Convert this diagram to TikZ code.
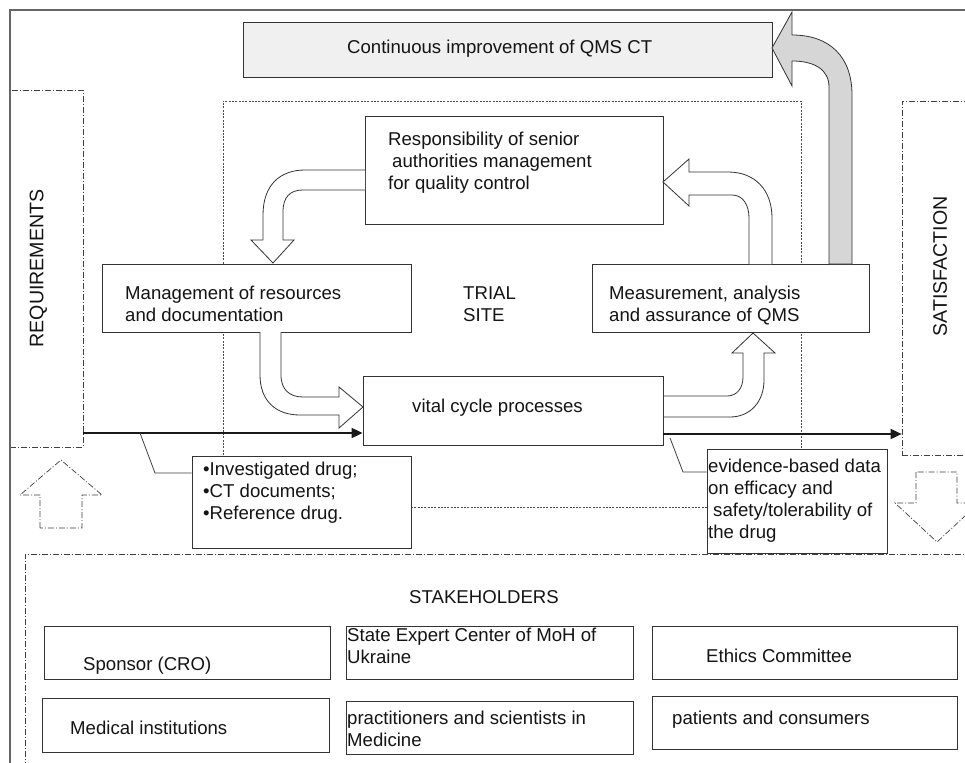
\documentclass[tikz,border=0pt]{standalone}
\usepackage{fontspec}
\setmainfont{Liberation Sans}
\usetikzlibrary{arrows.meta}
\newcommand{\mlines}[1]{\begin{tabular}[t]{@{}l@{}}#1\end{tabular}}
\begin{document}
\begin{tikzpicture}[x=1pt,y=-1pt,
  font=\fontsize{18.6}{22}\selectfont, text=black!92,
  box/.style={draw=black!80, line width=0.8pt, fill=white, inner sep=0pt},
  ddash/.style={draw=black!75, line width=0.7pt, dash pattern=on 6pt off 2pt on 1pt off 2pt},
  dotline/.style={draw=black!70, line width=0.7pt, dash pattern=on 2pt off 1.3pt},
  harrow/.style={draw=black!80, line width=0.8pt, fill=white},
  garrow/.style={draw=black!80, line width=0.8pt, fill=black!16},
  flow/.style={line width=1.8pt, draw=black!90, -{Triangle[length=11pt,width=10pt]}},
  callout/.style={draw=black!75, line width=0.8pt},
  txt/.style={anchor=base west, inner sep=0pt},
  vtxt/.style={rotate=90, inner sep=0pt, font=\fontsize{19.6}{22}\selectfont}]
\useasboundingbox (0,0) rectangle (965,762);
\fill[white] (0,0) rectangle (965,762);

% regions
\node[dotline, minimum width=578pt, minimum height=406pt] (site) at (512,304) {};
\node[ddash, minimum width=960pt, minimum height=226pt] (stake) at (505,667) {};
\node[ddash, minimum width=73pt, minimum height=357pt] (req) at (46.5,268.5) {};
\node[ddash, minimum width=88pt, minimum height=354pt] (sat) at (946,278) {};

% outer frame
\draw[black!60, line width=1.3pt] (10,775) -- (10,10) -- (975,10);

% boxes
\node[box, fill=black!6, minimum width=529pt, minimum height=55pt] (cont) at (507.5,49.5) {};
\node[box, minimum width=298pt, minimum height=108pt] (resp) at (514,170) {};
\node[box, minimum width=309pt, minimum height=68pt] (mgmt) at (256.5,298) {};
\node[box, minimum width=277pt, minimum height=68pt] (meas) at (730.5,298) {};
\node[box, minimum width=300pt, minimum height=69pt] (vital) at (513,410.5) {};
\node[box, minimum width=219pt, minimum height=92pt] (drug) at (301.5,502) {};
\node[box, minimum width=180pt, minimum height=104pt] (evid) at (797,501) {};
\node[box, minimum width=286pt, minimum height=53pt] (sponsor) at (187,652.5) {};
\node[box, minimum width=287pt, minimum height=53pt] (state) at (489.5,652.5) {};
\node[box, minimum width=305pt, minimum height=53pt] (ethics) at (804.5,652.5) {};
\node[box, minimum width=287pt, minimum height=54pt] (medical) at (185.5,725) {};
\node[box, minimum width=287pt, minimum height=53pt] (pract) at (489.5,727.5) {};
\node[box, minimum width=305pt, minimum height=53pt] (patients) at (804.5,722.5) {};

% block arrows
\draw[garrow] (829,264) -- (829,87) .. controls (829,70) and (815,61) .. (792,61)
  -- (792,86) -- (772,48) -- (792,12) -- (792,35)
  .. controls (830,35) and (852,57) .. (852,95) -- (852,264) -- cycle;
\draw[harrow] (365,170) -- (305,170) .. controls (280,170) and (263,185) .. (263,215)
  -- (263,240) -- (251,240) -- (273,263) -- (294,240) -- (283,240) -- (283,212)
  .. controls (283,197) and (290,190) .. (303,190) -- (365,190);
\draw[harrow] (772,264) -- (772,218) .. controls (772,190) and (755,172) .. (728,172)
  -- (689,172) -- (689,159) -- (663,182) -- (689,206) -- (689,195) -- (732,195)
  .. controls (743,195) and (749,205) .. (749,218) -- (749,264);
\draw[harrow] (260,332) -- (260,375) .. controls (260,400) and (275,415) .. (300,415)
  -- (339,415) -- (339,428) -- (363,407) -- (339,387) -- (339,397) -- (303,397)
  .. controls (290,397) and (281,390) .. (281,375) -- (281,332);
\draw[harrow] (664,396) -- (727,396) .. controls (737,396) and (743,388) .. (743,377)
  -- (743,353) -- (732,353) -- (753,333) -- (775,353) -- (764,353) -- (764,380)
  .. controls (764,402) and (750,417) .. (730,417) -- (664,417);

% dash-dotted up / down arrows
\draw[ddash, fill=white] (40,528) -- (40,495) -- (20,495) -- (61,460) -- (102,495)
  -- (82,495) -- (82,528) -- cycle;
\draw[ddash, fill=white] (916,472) -- (916,503) -- (895,503) -- (937,542) -- (979,503)
  -- (957,503) -- (957,472) -- cycle;

% flows
\coordinate (inL) at (83,433);
\coordinate (outR) at (663,434);
\draw[flow] (inL) -- (vital.west |- inL);
\draw[flow] (outR) -- (sat.west |- outR);

% callouts
\coordinate (c1) at (140,433);
\coordinate (c1b) at (155,473);
\draw[callout] (c1) -- (c1b) -- (drug.west |- c1b);
\coordinate (c2) at (670,438);
\coordinate (c2b) at (683,472);
\draw[callout] (c2) -- (c2b) -- (evid.west |- c2b);

% texts
\node[txt] (contT) at (347,54) {Continuous improvement of QMS CT};
\node[txt] (respT) at (388,146) {\mlines{Responsibility of senior\\\hspace{4pt}authorities management\\for quality control}};
\node[txt] (mgmtT) at (125,299) {\mlines{Management of resources\\and documentation}};
\node[txt] (siteT) at (463,299) {\mlines{TRIAL\\SITE}};
\node[txt] (measT) at (609,299) {\mlines{Measurement, analysis\\and assurance of QMS}};
\node[txt] (vitalT) at (412,412) {vital cycle processes};
\node[txt] (drugT) at (203,475) {\mlines{\textbullet Investigated drug;\\\textbullet CT documents;\\\textbullet Reference drug.}};
\node[txt] (evidT) at (708,472) {\mlines{evidence-based data\\on efficacy and\\\hspace{5pt}safety/tolerability of\\the drug}};
\node[vtxt] (reqT) at (38.5,268.5) {REQUIREMENTS};
\node[vtxt] (satT) at (940,266.5) {SATISFACTION};
\node[anchor=base, inner sep=0pt] (stakeT) at (484,603) {STAKEHOLDERS};
\node[txt] (sponsorT) at (83,670) {Sponsor (CRO)};
\node[txt] (stateT) at (347,641) {\mlines{State Expert Center of MoH of\\Ukraine}};
\node[txt] (ethicsT) at (706,662) {Ethics Committee};
\node[txt] (medicalT) at (70,734) {Medical institutions};
\node[txt] (practT) at (347,724) {\mlines{practitioners and scientists in\\Medicine}};
\node[txt] (patientsT) at (672,724) {patients and consumers};
\end{tikzpicture}
\end{document}
